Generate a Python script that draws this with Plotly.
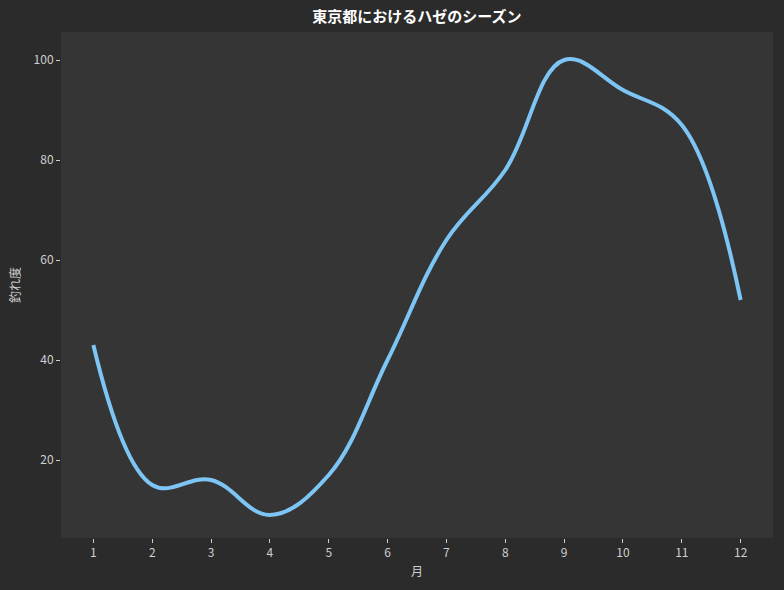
import plotly.graph_objects as go

months = [1, 2, 3, 4, 5, 6, 7, 8, 9, 10, 11, 12]
catch_rate = [43, 15, 16, 9, 17, 40, 64, 78, 100, 94, 87, 52]
y_ticks = [20, 40, 60, 80, 100]

FONT = "Noto Sans CJK JP"
TICK_COLOR = "#cfcfcf"

fig = go.Figure()
fig.add_trace(go.Scatter(
    x=months, y=catch_rate, mode="lines",
    line=dict(color="#7cc5f5", width=4, shape="spline", smoothing=1.1),
    showlegend=False,
))

fig.update_layout(
    width=784, height=590,
    paper_bgcolor="#2b2b2b", plot_bgcolor="#353535",
    margin=dict(l=61, r=11, t=32, b=52),
    title=dict(text="<b>東京都におけるハゼのシーズン</b>", x=0.5, xanchor="center", xref="paper",
               y=1 - 17 / 590, yanchor="middle",
               font=dict(family=FONT, size=15, color="#ffffff")),
    font=dict(family=FONT, color=TICK_COLOR),
    xaxis=dict(range=[0.45, 12.55], tickvals=months, ticks="outside", ticklen=4,
               tickcolor=TICK_COLOR, showgrid=False, zeroline=False, showline=False,
               tickfont=dict(size=12, color=TICK_COLOR),
               title=dict(text="月", font=dict(size=12, color=TICK_COLOR), standoff=8)),
    yaxis=dict(range=[4.4, 105.6], tickvals=y_ticks, ticks="outside", ticklen=4,
               tickcolor=TICK_COLOR, showgrid=False, zeroline=False, showline=False,
               tickfont=dict(size=12, color=TICK_COLOR),
               title=dict(text="釣れ度", font=dict(size=12, color=TICK_COLOR), standoff=10)),
)

fig.write_html("out.html", config={"displayModeBar": False},
               post_script="document.body.style.margin='0';document.body.style.background='#2b2b2b';")
